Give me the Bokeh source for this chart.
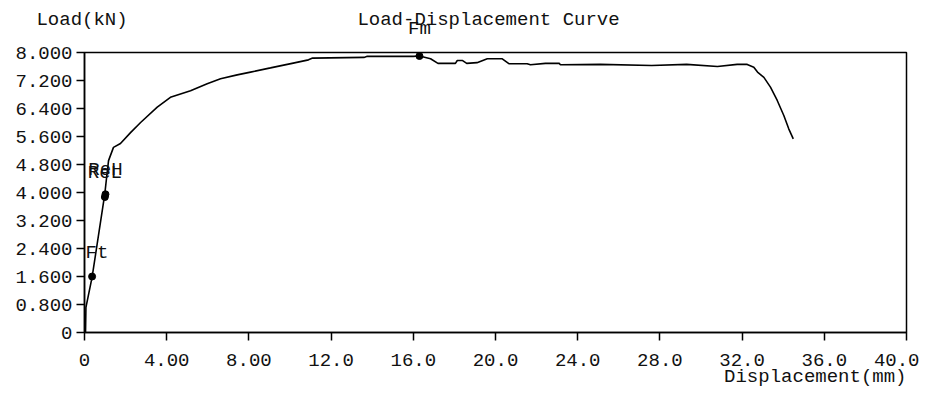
from bokeh.plotting import figure
from bokeh.layouts import column
from bokeh.models import Range1d, FixedTicker, LabelSet, ColumnDataSource, Title
from bokeh.core.properties import value
from bokeh.embed import file_html
from bokeh.resources import INLINE

# --- data ---
disp = [0.05, 0.07, 0.37, 0.99, 1.07, 1.17, 1.41, 1.75, 2.24, 2.73, 3.54, 4.18,
        5.16, 5.97, 6.62, 7.43, 8.08, 9.05, 10.1, 10.9, 11.1, 13.6, 13.76, 16.0,
        16.3, 16.84, 17.2, 18.05, 18.14, 18.4, 18.6, 19.1, 19.6, 20.33, 20.65,
        21.54, 21.7, 22.43, 23.1, 23.16, 25.1, 27.6, 29.3, 30.8, 31.76, 32.25,
        32.57, 32.75, 33.06, 33.38, 33.71, 34.03, 34.27, 34.49]
load = [0.0, 0.72, 1.58, 3.97, 4.4, 4.91, 5.29, 5.4, 5.71, 6.0, 6.44, 6.72,
        6.91, 7.11, 7.25, 7.36, 7.44, 7.56, 7.69, 7.79, 7.84, 7.86, 7.89, 7.89,
        7.9, 7.82, 7.69, 7.69, 7.77, 7.77, 7.69, 7.71, 7.82, 7.82, 7.68,
        7.68, 7.65, 7.69, 7.69, 7.65, 7.66, 7.63, 7.66, 7.6, 7.66, 7.66,
        7.58, 7.44, 7.29, 7.01, 6.63, 6.2, 5.82, 5.53]

mark_names = ["Ft", "ReL", "ReH", "Fm"]
mark_x = [0.37, 0.99, 1.02, 16.3]
mark_y = [1.6, 3.87, 3.95, 7.9]

x_ticks = [0, 4, 8, 12, 16, 20, 24, 28, 32, 36, 40]
x_tick_labels = ["0", "4.00", "8.00", "12.0", "16.0", "20.0", "24.0", "28.0", "32.0", "36.0", "40.0"]
y_ticks = [0, 0.8, 1.6, 2.4, 3.2, 4.0, 4.8, 5.6, 6.4, 7.2, 8.0]
y_tick_labels = ["0", "0.800", "1.600", "2.400", "3.200", "4.000", "4.800", "5.600", "6.400", "7.200", "8.000"]

title_text = "Load-Displacement Curve"
y_label = "Load(kN)"
x_label = "Displacement(mm)"

FONT = "Liberation Mono"
FS = "19px"
TXT = "#111111"
CHAR_W = 11.4

W = 919
TOP_H = 40
MAIN_H = 387 - TOP_H
MAIN_TOP = 52 - TOP_H
LEFT = 84
RIGHT = 13
FRAME_W = W - LEFT - RIGHT          # 822 px for 0..40
PX_PER_X = FRAME_W / 40.0
PX_PER_Y = 280 / 8.0
LAB_OFF = 13

# split mark labels: those that fit in the frame and those that rise above it
in_n, in_x, in_y, in_dx, over_n, over_x = [], [], [], [], [], []
for n, mx, my in zip(mark_names, mark_x, mark_y):
    if (8 - my) * PX_PER_Y < LAB_OFF + 16:
        over_n.append(n); over_x.append(mx)
    else:
        half = len(n) * CHAR_W / 2
        in_n.append(n); in_x.append(mx); in_y.append(my)
        in_dx.append(max(0.0, half - mx * PX_PER_X + 1))   # keep label inside the frame

# ---------- main plot ----------
p = figure(width=W, height=MAIN_H, output_backend="svg", toolbar_location=None,
           title_location=None,
           x_range=Range1d(0, 40), y_range=Range1d(0, 8),
           min_border_left=LEFT, min_border_right=RIGHT, min_border_top=MAIN_TOP,
           min_border_bottom=MAIN_H - MAIN_TOP - 280)
p.background_fill_color = "white"
p.border_fill_color = "white"
p.outline_line_color = "black"
p.outline_line_width = 1.5
p.xgrid.visible = False
p.ygrid.visible = False

for ax, ticks, labels in ((p.xaxis[0], x_ticks, x_tick_labels), (p.yaxis[0], y_ticks, y_tick_labels)):
    ax.ticker = FixedTicker(ticks=ticks)
    ax.major_label_overrides = {t: l for t, l in zip(ticks, labels)}
    ax.major_tick_out = 8
    ax.major_tick_in = 0
    ax.minor_tick_out = 0
    ax.minor_tick_in = 0
    ax.axis_line_color = "black"
    ax.axis_line_width = 1.5
    ax.major_tick_line_color = "black"
    ax.major_tick_line_width = 1.5
    ax.major_label_text_font = FONT
    ax.major_label_text_font_size = FS
    ax.major_label_text_color = TXT
p.xaxis[0].major_label_standoff = 13
p.yaxis[0].major_label_standoff = 4

p.line(disp, load, line_color="black", line_width=1.6)

p.scatter(mark_x, mark_y, size=7, color="black")
src = ColumnDataSource(dict(x=in_x, y=in_y, name=in_n, dx=in_dx))
p.add_layout(LabelSet(x="x", y="y", text="name", source=src, y_offset=LAB_OFF, x_offset="dx",
                      text_align="center", text_baseline="bottom",
                      text_font=value(FONT), text_font_size=value(FS), text_color=TXT))

p.add_layout(Title(text=x_label, align="right", text_font=FONT, text_font_size=FS,
                   text_font_style="normal", text_color=TXT, standoff=-10), "below")

# ---------- top strip (title, y-axis caption, labels above the frame) ----------
x0 = -LEFT / PX_PER_X
x1 = (W - LEFT) / PX_PER_X
top = figure(width=W, height=TOP_H, output_backend="svg", toolbar_location=None,
             title_location=None, x_axis_location=None, y_axis_location=None,
             x_range=Range1d(x0, x1), y_range=Range1d(0, TOP_H),
             min_border=0, min_border_left=0, min_border_right=0,
             min_border_top=0, min_border_bottom=0)
try:
    top.frame_align = False
except Exception:
    pass
top.outline_line_color = None
top.background_fill_color = "white"
top.border_fill_color = "white"
top.grid.visible = False

row_y = TOP_H - 19
top.text(x=[19.66], y=[row_y], text=[title_text], text_align="center", text_baseline="middle",
         text_font=value(FONT), text_font_size=value(FS), text_color=TXT)
top.text(x=[-0.12], y=[row_y], text=[y_label], text_align="center", text_baseline="middle",
         text_font=value(FONT), text_font_size=value(FS), text_color=TXT)

top_src = ColumnDataSource(dict(x=over_x, y=[0.5] * len(over_x), name=over_n))
top.text(x="x", y="y", text="name", source=top_src, text_align="center", text_baseline="bottom",
         text_font=value(FONT), text_font_size=value(FS), text_color=TXT)

layout = column(top, p, spacing=0)
open("out.html", "w").write(file_html(layout, INLINE))
